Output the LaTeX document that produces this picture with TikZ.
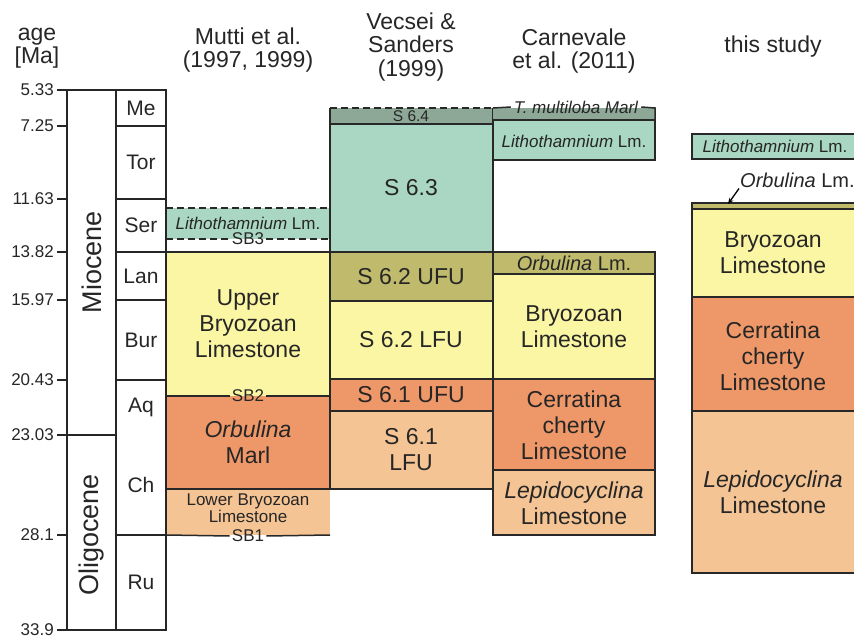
\documentclass[tikz,border=0pt]{standalone}
\usepackage{fontspec}
\setmainfont{Liberation Sans}
\usepackage{xcolor}
\usetikzlibrary{arrows.meta,positioning,calc}

\definecolor{lithocol}{RGB}{169,215,195}
\definecolor{greycol}{RGB}{142,168,152}
\definecolor{olivecol}{RGB}{192,186,108}
\definecolor{yellowcol}{RGB}{251,246,163}
\definecolor{orangecol}{RGB}{238,151,104}
\definecolor{peachcol}{RGB}{245,196,148}
\definecolor{edgecol}{RGB}{40,40,40}
\newcommand{\pxfont}[2]{\fontsize{#1}{#2}\selectfont}

\tikzset{
  frame/.style={draw=black!85,line width=1.5pt},
  layer/.style={draw=edgecol,line width=1.5pt},
  dashline/.style={layer,dash pattern=on 7pt off 4pt},
  header/.style={font=\pxfont{23}{23.5},align=center,text=black!85},
  agelab/.style={font=\pxfont{17}{17},anchor=east,inner sep=0pt,text=black!85},
  stagelab/.style={font=\pxfont{21}{21},text=black!85},
  epochlab/.style={font=\pxfont{27}{27},rotate=90,text=black!85},
  unitlab/.style={font=\pxfont{23}{26},align=center,text=black!85},
  smalllab/.style={font=\pxfont{17}{18},align=center,text=black!85},
  linelab/.style={font=\pxfont{17}{17},inner xsep=2pt,inner ysep=0pt,text=black!85}
}

\begin{document}
\begin{tikzpicture}[x=1pt,y=-1pt]
\useasboundingbox (0,0) rectangle (854,636);

% column headers
\node[header] (agehead) at (37,48) {age\\{[Ma]}};
\node[header] (mutti) at (248,50) {Mutti et al.\\(1997, 1999)};
\node[header] (vecsei) at (411,47) {Vecsei \&\\Sanders\\(1999)};
\node[header] (carnevale) at (574,51) {Carnevale\\et al. (2011)};
\node[header] (study) at (773,47) {this study};

% Mutti et al.
\fill[lithocol] (166,208) rectangle (330,239);
\draw[dashline] (166,208) -- (330,208);
\node[smalllab] (muttilitho) at (248,223.5) {\textit{Lithothamnium} Lm.};
\node[linelab] (sbthree) at (248,239) {SB3};
\draw[dashline] (166,239) -- (sbthree.west);
\draw[dashline] (sbthree.east) -- (330,239);
\fill[yellowcol] (166,252) rectangle (330,396);
\fill[orangecol] (166,396) rectangle (330,489);
\fill[peachcol] (166,489) rectangle (330,535);
\draw[layer] (166,252) -- (330,252);
\draw[layer] (166,489) -- (330,489);
\node[unitlab] (upperbry) at (248,324) {Upper\\Bryozoan\\Limestone};
\node[unitlab] (orbmarl) at (248,442) {\textit{Orbulina}\\Marl};
\node[smalllab,font=\pxfont{17}{17}] (lowerbry) at (248,508.5) {Lower Bryozoan\\Limestone};
\node[linelab] (sbtwo) at (248,396) {SB2};
\node[linelab] (sbone) at (248,536) {SB1};
\draw[layer] (166,396) -- (sbtwo.west) (sbtwo.east) -- (330,396);
\draw[layer] (166,535) -- (sbone.west) (sbone.east) -- (330,535);

% Vecsei & Sanders
\fill[greycol] (330,108) rectangle (493,124);
\draw[dashline] (330,108) -- (493,108);
\draw[layer] (330,108) -- (330,124) (493,108) -- (493,124);
\filldraw[layer,fill=lithocol] (330,124) rectangle (493,252);
\filldraw[layer,fill=olivecol] (330,252) rectangle (493,301);
\filldraw[layer,fill=yellowcol] (330,301) rectangle (493,379);
\filldraw[layer,fill=orangecol] (330,379) rectangle (493,411);
\filldraw[layer,fill=peachcol] (330,411) rectangle (493,489);
\node[font=\pxfont{15.5}{15.5},text=black!85] (sfour) at (411,116.5) {S 6.4};
\node[unitlab] (sthree) at (411,188) {S 6.3};
\node[unitlab] (stwou) at (411,276.5) {S 6.2 UFU};
\node[unitlab] (stwol) at (411,340) {S 6.2 LFU};
\node[unitlab] (soneu) at (411,395) {S 6.1 UFU};
\node[unitlab] (sonel) at (411,450) {S 6.1\\LFU};

% Carnevale et al.
\fill[greycol] (493,108) rectangle (655,120);
\filldraw[layer,fill=lithocol] (493,120) rectangle (655,160);
\node[font=\pxfont{17}{17}\itshape,inner xsep=3pt,inner ysep=0pt,text=black!85]
  (tmarl) at (576,107) {T. multiloba Marl};
\draw[layer] (493,108) -- (tmarl.west) (tmarl.east) -- (655,108) -- (655,120);
\node[smalllab] (carnlitho) at (574,141) {\textit{Lithothamnium} Lm.};
\filldraw[layer,fill=olivecol] (493,252) rectangle (655,274);
\filldraw[layer,fill=yellowcol] (493,274) rectangle (655,379);
\filldraw[layer,fill=orangecol] (493,379) rectangle (655,470);
\filldraw[layer,fill=peachcol] (493,470) rectangle (655,535);
\node[font=\pxfont{20}{20},text=black!85] (carnorb) at (574,263) {\textit{Orbulina} Lm.};
\node[unitlab] (carnbry) at (574,327) {Bryozoan\\Limestone};
\node[unitlab] (carncer) at (574,425) {Cerratina\\cherty\\Limestone};
\node[unitlab] (carnlep) at (574,503) {\textit{Lepidocyclina}\\Limestone};

% this study
\filldraw[layer,fill=lithocol] (692,134) rectangle (858,159);
\filldraw[layer,fill=olivecol] (692,203) rectangle (858,209);
\filldraw[layer,fill=yellowcol] (692,209) rectangle (858,297);
\filldraw[layer,fill=orangecol] (692,297) rectangle (858,411);
\filldraw[layer,fill=peachcol] (692,411) rectangle (858,573);
\node[smalllab] (studylitho) at (775,146.5) {\textit{Lithothamnium} Lm.};
\node[font=\pxfont{20}{20},anchor=west,inner sep=1pt,text=black!85]
  (studyorb) at (739,180) {\textit{Orbulina} Lm.};
\coordinate (orbtip) at (728,204);
\draw[line width=1.3pt,-{Stealth[length=6pt,width=5pt]}] (studyorb.south west) -- (orbtip);
\node[unitlab] (studybry) at (773,253) {Bryozoan\\Limestone};
\node[unitlab] (studycer) at (773,356) {Cerratina\\cherty\\Limestone};
\node[unitlab] (studylep) at (773,492) {\textit{Lepidocyclina}\\Limestone};

% time scale
\foreach \y/\age in {90/5.33,126/7.25,199/11.63,252/13.82,300/15.97,380/20.43,435/23.03,535/28.1,630/33.9}{
  \draw[frame] (57,\y) -- (67,\y);
  \node[agelab] (age\y) at (54,\y) {\age};
}
\draw[frame] (67,90) rectangle (166,630);
\draw[frame] (116,90) -- (116,630);
\draw[frame] (67,435) -- (116,435);
\foreach \y in {126,199,252,300,380,535}
  \draw[frame] (116,\y) -- (166,\y);
\foreach \y/\st in {108/Me,162.5/Tor,225.5/Ser,276/Lan,340/Bur,407.5/Aq,485/Ch,582.5/Ru}
  \node[stagelab] (st\st) at (141,\y) {\st};
\node[epochlab] (miocene) at (91.5,262) {Miocene};
\node[epochlab] (oligocene) at (91.5,535) {Oligocene};
\end{tikzpicture}
\end{document}
